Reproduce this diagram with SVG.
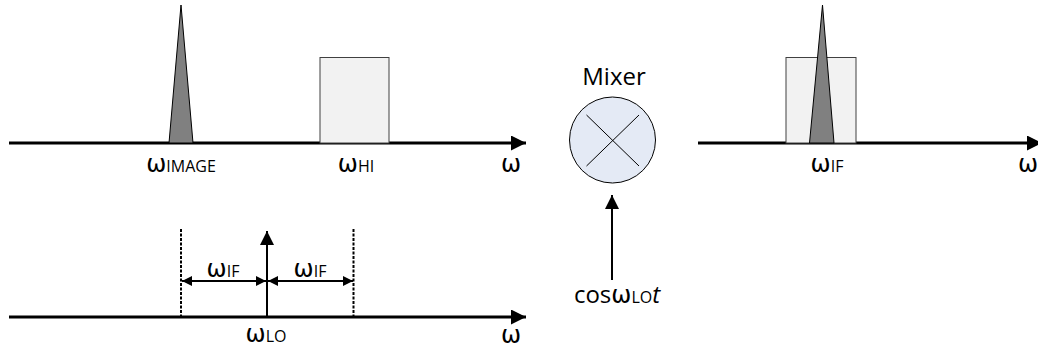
<svg xmlns="http://www.w3.org/2000/svg" width="1038" height="352" viewBox="0 0 1038 352">
<defs>
<style>
.axis{stroke:#000;stroke-width:3;fill:none}
.thin{stroke:#000;stroke-width:2;fill:none}
.dash{stroke:#000;stroke-width:2;stroke-dasharray:3 1.5;fill:none}
.tri{fill:#808080;stroke:#000;stroke-width:1}
.box{fill:#f2f2f2;stroke:#404040;stroke-width:1}
.lbl{font-family:"Open Sans","Liberation Sans",sans-serif;fill:#000}
.w{font-family:"DejaVu Sans","Open Sans",sans-serif;font-size:24px}
.sub{font-size:16px}
</style>
<marker id="ah" viewBox="0 0 10 10" refX="10" refY="5" markerWidth="7.5" markerHeight="5" orient="auto" markerUnits="strokeWidth">
<path d="M0,0 L10,5 L0,10 Z" fill="#000"/>
</marker>
<marker id="ah2" viewBox="0 0 10 10" refX="10" refY="5" markerWidth="10" markerHeight="7" orient="auto-start-reverse" markerUnits="strokeWidth">
<path d="M0,0 L10,5 L0,10 Z" fill="#000"/>
</marker>
<marker id="ah3" viewBox="0 0 10 10" refX="10" refY="5" markerWidth="7.5" markerHeight="5" orient="auto-start-reverse" markerUnits="strokeWidth">
<path d="M0,0 L10,5 L0,10 Z" fill="#000"/>
</marker>
</defs>

<g id="connectors">
<line class="axis" x1="9" y1="143" x2="526" y2="143" marker-end="url(#ah)"/>
<line class="axis" x1="698" y1="143" x2="1042" y2="143" marker-end="url(#ah)"/>
<line class="axis" x1="9" y1="317" x2="526" y2="317" marker-end="url(#ah)"/>
<line class="thin" x1="612" y1="280" x2="612" y2="195" marker-end="url(#ah2)"/>
<line class="thin" x1="267" y1="317" x2="267" y2="231" marker-end="url(#ah2)"/>
<line class="thin" x1="182" y1="281" x2="266" y2="281" marker-start="url(#ah3)" marker-end="url(#ah3)"/>
<line class="thin" x1="268" y1="281" x2="353" y2="281" marker-start="url(#ah3)" marker-end="url(#ah3)"/>
<line class="dash" x1="181" y1="229" x2="181" y2="316"/>
<line class="dash" x1="353.5" y1="229" x2="353.5" y2="316"/>
</g>

<g id="image-peak">
<polygon class="tri" points="169,143 181,5 193,143"/>
<text class="lbl" x="181" y="172" text-anchor="middle"><tspan class="w">ω</tspan><tspan class="sub">IMAGE</tspan></text>
</g>

<g id="hi-band">
<rect class="box" x="320" y="57.5" width="69" height="85.5"/>
<text class="lbl" x="356" y="172" text-anchor="middle"><tspan class="w">ω</tspan><tspan class="sub">HI</tspan></text>
</g>
<text class="lbl w" x="511" y="172" text-anchor="middle">ω</text>

<g id="mixer">
<text class="lbl" x="614" y="85" text-anchor="middle" font-size="24">Mixer</text>
<circle cx="612.5" cy="140" r="43" fill="#e4eaf5" stroke="#000" stroke-width="1"/>
<line x1="586.5" y1="115" x2="639" y2="166" stroke="#000" stroke-width="1"/>
<line x1="639" y1="115" x2="586.5" y2="166" stroke="#000" stroke-width="1"/>
</g>

<g id="lo-input">
<text class="lbl" x="617" y="303" text-anchor="middle"><tspan font-size="24">cos</tspan><tspan class="w">ω</tspan><tspan class="sub">LO</tspan><tspan font-size="24" font-style="italic">t</tspan></text>
</g>

<g id="if-output">
<rect class="box" x="786" y="57.5" width="70" height="85.5"/>
<polygon class="tri" points="809.5,143 822.5,5 834,143"/>
<text class="lbl" x="827" y="172" text-anchor="middle"><tspan class="w">ω</tspan><tspan class="sub">IF</tspan></text>
</g>
<text class="lbl w" x="1028" y="172" text-anchor="middle">ω</text>

<g id="lo-spectrum">
<text class="lbl" x="223" y="277" text-anchor="middle"><tspan class="w">ω</tspan><tspan class="sub">IF</tspan></text>
<text class="lbl" x="310" y="277" text-anchor="middle"><tspan class="w">ω</tspan><tspan class="sub">IF</tspan></text>
<text class="lbl" x="266" y="342" text-anchor="middle"><tspan class="w">ω</tspan><tspan class="sub">LO</tspan></text>
</g>
<text class="lbl w" x="511" y="343" text-anchor="middle">ω</text>
</svg>
